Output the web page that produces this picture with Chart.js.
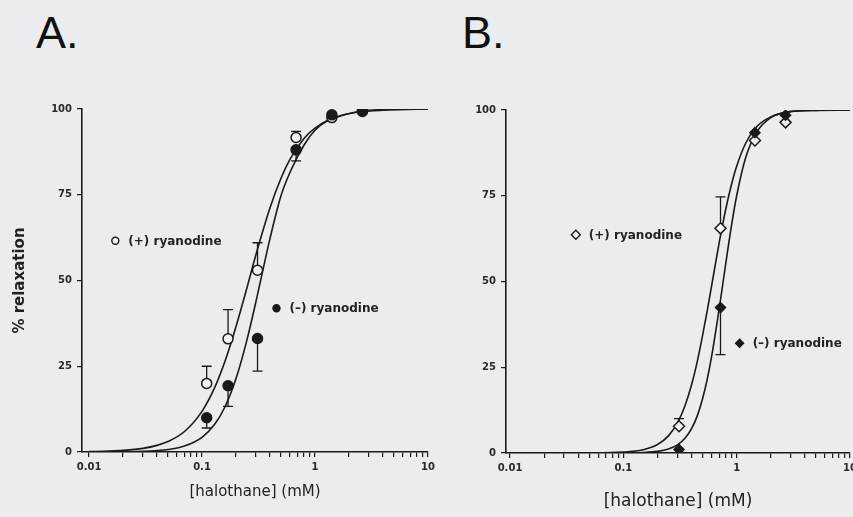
<!DOCTYPE html>
<html>
<head>
<meta charset="utf-8">
<script src="https://cdn.jsdelivr.net/npm/chart.js@4.4.0/dist/chart.umd.min.js"></script>
<style>
html, body { margin: 0; padding: 0; width: 853px; height: 517px; overflow: hidden; background: #ebecee; }
canvas { position: absolute; top: 0; }
#chartA { left: 0; }
#chartB { left: 440px; }
.letter { position: absolute; top: 10px; font-family: "Liberation Sans", Arial, sans-serif; font-size: 45px; line-height: 45px; color: #111; }
</style>
</head>
<body>
<div class="letter" style="left:36px">A.</div>
<div class="letter" style="left:462px">B.</div>
<canvas id="chartA" width="440" height="517"></canvas>
<canvas id="chartB" width="440" height="517"></canvas>
<script>
// axis ticks (log scale, labels only on decades)
const xTickValues = [0.01, 0.02, 0.03, 0.04, 0.05, 0.06, 0.07, 0.08, 0.09,
                     0.1, 0.2, 0.3, 0.4, 0.5, 0.6, 0.7, 0.8, 0.9,
                     1, 2, 3, 4, 5, 6, 7, 8, 9, 10];
const xTickLabels = ['0.01', '', '', '', '', '', '', '', '',
                     '0.1', '', '', '', '', '', '', '', '',
                     '1', '', '', '', '', '', '', '', '', '10'];
const yTickValues = [0, 25, 50, 75, 100];

const seriesNames = ['(+) ryanodine', '(\u2013) ryanodine'];

// Panel A - measured points
const aDose = [0.11, 0.17, 0.31, 0.68, 1.41, 2.63];
const aPlus = [20, 33, 53, 91.7, 97.5, 99.3];
const aPlusErr = [5, 8.5, 8, 1.8, 0, 0];
const aMinus = [10, 19.3, 33.1, 88.1, 98.3, 99.5];
const aMinusErr = [3, 6, 9.5, 3.2, 0, 0];

// Panel A - fitted curves
const aCurveDose = [0.01, 0.015, 0.02, 0.03, 0.04, 0.05, 0.07, 0.1, 0.13, 0.16, 0.2, 0.25,
                    0.3, 0.4, 0.5, 0.6, 0.8, 1, 1.3, 1.7, 2.2, 3, 5, 10];
const aPlusCurve = [0.1, 0.25, 0.46, 1.06, 1.93, 3.04, 5.98, 11.85, 18.9, 26.5, 36.6, 47.9,
                    57.5, 71.2, 79.8, 85.3, 91.4, 94.4, 96.7, 98.1, 98.9, 99.4, 99.8, 100];
const aMinusCurve = [0, 0.03, 0.07, 0.2, 0.41, 0.73, 1.75, 4.29, 8.15, 13.2, 21.4, 32.7,
                     43.8, 62.3, 74.7, 81.5, 89.5, 93.8, 96.6, 98.0, 99.0, 99.6, 99.9, 100];

// Panel B - measured points
const bDose = [0.31, 0.72, 1.45, 2.7];
const bPlus = [7.8, 65.5, 91.1, 96.4];
const bPlusErr = [2.2, 9.2, 0, 0];
const bMinus = [1.0, 42.4, 93.4, 98.5];
const bMinusErr = [0, 13.7, 0, 0];

// Panel B - fitted curves
const bCurveDose = [0.01, 0.05, 0.1, 0.15, 0.2, 0.25, 0.3, 0.35, 0.4, 0.45, 0.5, 0.55,
                    0.6, 0.7, 0.8, 0.9, 1, 1.2, 1.5, 2, 3, 5, 10];
const bPlusCurve = [0, 0.03, 0.26, 0.97, 2.46, 5.0, 8.77, 13.8, 19.9, 26.8, 34.2, 41.5,
                    48.6, 61.2, 71.0, 78.3, 83.6, 90.3, 95.1, 98.0, 99.5, 99.9, 100];
const bMinusCurve = [0, 0, 0.03, 0.15, 0.48, 1.16, 2.37, 4.3, 7.1, 10.9, 15.8, 21.5,
                     28.0, 41.9, 55.1, 66.3, 75.0, 86.1, 93.5, 97.8, 99.6, 99.9, 100];

// in-plot labels (data coordinates)
const aLabelX = [0.0171, 0.456];
const aLabelY = [61.6, 41.9];
const bLabelX = [0.0381, 1.062];
const bLabelY = [63.6, 32.0];

const INK = '#1a1a1a';
const OPEN_FILL = '#f4f4f4';

function pts(xs, ys) {
    return xs.map((x, i) => ({ x: x, y: ys[i] }));
}

function curveSet(xs, ys) {
    return {
        data: pts(xs, ys),
        showLine: true,
        pointRadius: 0,
        borderColor: INK,
        borderWidth: 1.6,
        cubicInterpolationMode: 'monotone',
        order: 3
    };
}

function markerSet(xs, ys, errs, dir, style, radius, filled, order) {
    return {
        data: pts(xs, ys),
        showLine: false,
        pointStyle: style,
        pointRadius: radius,
        pointBorderWidth: 1.5,
        pointBorderColor: INK,
        pointBackgroundColor: filled ? INK : OPEN_FILL,
        errors: errs,
        errorDir: dir,
        order: order
    };
}

// vertical error bars with a cap, drawn under the markers
const errorBars = {
    id: 'errorBars',
    beforeDatasetsDraw(chart) {
        const { ctx } = chart;
        const xs = chart.scales.x, ys = chart.scales.y;
        ctx.save();
        ctx.strokeStyle = INK;
        ctx.lineWidth = 1.3;
        chart.data.datasets.forEach(ds => {
            if (!ds.errors) return;
            ds.data.forEach((p, i) => {
                const e = ds.errors[i];
                if (!e) return;
                const px = xs.getPixelForValue(p.x);
                const p0 = ys.getPixelForValue(p.y);
                const p1 = ys.getPixelForValue(p.y + ds.errorDir * e);
                ctx.beginPath();
                ctx.moveTo(px, p0);
                ctx.lineTo(px, p1);
                ctx.moveTo(px - 5, p1);
                ctx.lineTo(px + 5, p1);
                ctx.stroke();
            });
        });
        ctx.restore();
    }
};

function seriesLabels(lx, ly, styles) {
    return {
        id: 'seriesLabels',
        afterDatasetsDraw(chart) {
            const { ctx } = chart;
            const xs = chart.scales.x, ys = chart.scales.y;
            ctx.save();
            ctx.font = 'bold 12px "DejaVu Sans"';
            ctx.textBaseline = 'middle';
            lx.forEach((v, i) => {
                const px = xs.getPixelForValue(v);
                const py = ys.getPixelForValue(ly[i]);
                const st = styles[i];
                ctx.fillStyle = st.filled ? INK : OPEN_FILL;
                ctx.strokeStyle = INK;
                ctx.lineWidth = 1.4;
                Chart.helpers.drawPoint(ctx, { pointStyle: st.style, radius: st.radius, borderWidth: 1.4, rotation: 0 }, px, py);
                ctx.fillStyle = '#222';
                ctx.fillText(seriesNames[i], px + 13, py + 1);
            });
            ctx.restore();
        }
    };
}

function makeOptions(cfg) {
    return {
        responsive: false,
        animation: false,
        events: [],
        layout: { padding: { left: 0, top: cfg.top, right: cfg.right, bottom: 0 } },
        plugins: { legend: { display: false }, tooltip: { enabled: false } },
        scales: {
            x: {
                type: 'logarithmic',
                min: cfg.xMin,
                max: 10,
                afterFit: s => { s.height = cfg.xHeight; },
                afterBuildTicks: s => { s.ticks = xTickValues.map(v => ({ value: v })); },
                ticks: {
                    autoSkip: false,
                    maxRotation: 0,
                    padding: 4,
                    color: '#2a2a2a',
                    font: { family: 'DejaVu Sans', size: 10, weight: 'bold' },
                    callback: v => xTickLabels[xTickValues.indexOf(v)]
                },
                grid: { drawOnChartArea: false, tickLength: 5, color: INK, lineWidth: 1.2 },
                border: { color: INK, width: 1.6 },
                title: {
                    display: true,
                    text: '[halothane] (mM)',
                    color: '#222',
                    font: { family: 'DejaVu Sans', size: cfg.xTitleSize },
                    padding: { top: 0, bottom: cfg.xTitlePad }
                }
            },
            y: {
                min: 0,
                max: 100,
                afterFit: s => { s.width = cfg.yWidth; },
                afterBuildTicks: s => { s.ticks = yTickValues.map(v => ({ value: v })); },
                ticks: {
                    padding: 5,
                    color: '#2a2a2a',
                    font: { family: 'DejaVu Sans', size: 10, weight: 'bold' }
                },
                grid: { drawOnChartArea: false, tickLength: 5, color: INK, lineWidth: 1.2 },
                border: { color: INK, width: 1.6 },
                title: {
                    display: cfg.yTitle,
                    text: '% relaxation',
                    color: '#222',
                    font: { family: 'DejaVu Sans', size: 15, weight: 'bold' },
                    padding: { top: 11, bottom: 0 }
                }
            }
        }
    };
}

new Chart(document.getElementById('chartA').getContext('2d'), {
    type: 'scatter',
    data: {
        datasets: [
            curveSet(aCurveDose, aPlusCurve),
            curveSet(aCurveDose, aMinusCurve),
            markerSet(aDose, aPlus, aPlusErr, 1, 'circle', 5, false, 2),
            markerSet(aDose, aMinus, aMinusErr, -1, 'circle', 5, true, 1)
        ]
    },
    options: makeOptions({ top: 109, right: 12, xMin: 0.00867, xHeight: 65, yWidth: 82,
                           xTitleSize: 15, xTitlePad: 16, yTitle: true }),
    plugins: [errorBars, seriesLabels(aLabelX, aLabelY, [
        { style: 'circle', radius: 3.5, filled: false },
        { style: 'circle', radius: 3.5, filled: true }
    ])]
});

new Chart(document.getElementById('chartB').getContext('2d'), {
    type: 'scatter',
    data: {
        datasets: [
            curveSet(bCurveDose, bPlusCurve),
            curveSet(bCurveDose, bMinusCurve),
            markerSet(bDose, bPlus, bPlusErr, 1, 'rectRot', 5.5, false, 2),
            markerSet(bDose, bMinus, bMinusErr, -1, 'rectRot', 5, true, 1)
        ]
    },
    options: makeOptions({ top: 110, right: 30, xMin: 0.00922, xHeight: 64, yWidth: 66,
                           xTitleSize: 17, xTitlePad: 5, yTitle: false }),
    plugins: [errorBars, seriesLabels(bLabelX, bLabelY, [
        { style: 'rectRot', radius: 4.5, filled: false },
        { style: 'rectRot', radius: 4, filled: true }
    ])]
});
</script>
</body>
</html>
